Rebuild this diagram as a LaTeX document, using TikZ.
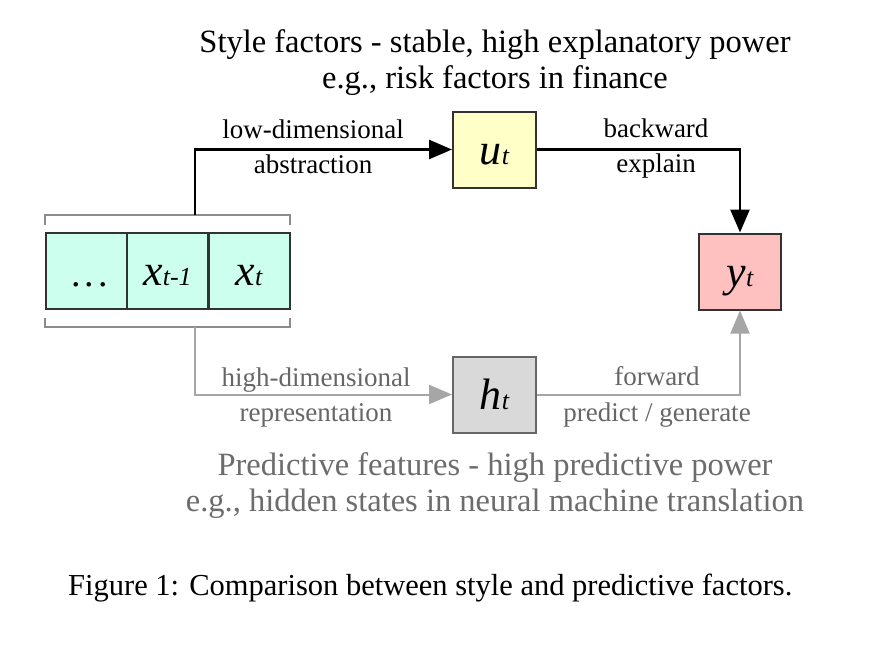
\documentclass[tikz,border=0pt]{standalone}
\usepackage{fontspec}
\setmainfont{Liberation Serif}
\usetikzlibrary{arrows.meta}
\definecolor{cellc}{RGB}{204,255,238}
\definecolor{uc}{RGB}{255,255,200}
\definecolor{yc}{RGB}{255,192,192}
\definecolor{hc}{RGB}{217,217,217}
\definecolor{gline}{RGB}{166,166,166}
\definecolor{gtext}{RGB}{102,102,102}
\definecolor{btext}{RGB}{108,108,108}
\definecolor{bord}{RGB}{50,50,50}
\begin{document}
\begin{tikzpicture}[x=1pt,y=-1pt,
  boxbase/.style={line width=2pt,minimum height=76pt,inner sep=0pt,text height=29pt,text depth=0pt,
    font=\fontsize{44}{46}\selectfont\itshape},
  cell/.style={boxbase,draw=bord,fill=cellc,minimum width=81pt},
  fbox/.style={boxbase,draw=bord,minimum width=83pt},
  lab/.style={font=\fontsize{27}{29}\selectfont,inner sep=0pt,anchor=base},
  head/.style={font=\fontsize{32.5}{34}\selectfont,inner sep=0pt,anchor=base},
  darr/.style={line width=2.5pt,-{Triangle[length=23pt,width=19pt]}},
  garr/.style={line width=2pt,draw=gline,-{Triangle[length=23pt,width=19pt]}},
]
\useasboundingbox (0,0) rectangle (876,646);
\newcommand{\sbt}[1]{{\fontsize{26}{27}\selectfont\itshape #1}}
% cells
\node[cell,font=\fontsize{38}{40}\selectfont] (c1) at (86,271) {\kern7pt\raisebox{-1pt}{.\kern4pt.\kern4pt.}};
\node[cell] (c2) at (167.5,271) {x\sbt{t-1}};
\node[cell] (c3) at (249,271) {x\sbt{t}};
% brackets
\draw[draw=gray!90,line width=2pt] (45,225) -- (45,215) -- (290,215) -- (290,225);
\draw[draw=gray!90,line width=2pt] (45,318) -- (45,327) -- (290,327) -- (290,318);
\coordinate (bt) at (195,215);
\coordinate (bb) at (195,327);
% boxes
\node[fbox,fill=uc] (u) at (494.5,149.5) {u\sbt{t}};
\node[fbox,fill=yc,minimum width=82pt] (y) at (740,271.5) {y\sbt{t}};
\node[fbox,fill=hc,draw=gtext] (h) at (494.5,394.5) {h\sbt{t}};
% connectors
\draw[darr] (bt) |- (u);
\draw[darr] (u) -| (y);
\draw[garr] (bb) |- (h);
\draw[garr] (h) -| (y);
% labels
\node[lab] (l1) at (313,138) {low-dimensional};
\node[lab] (l2) at (313,173) {abstraction};
\node[lab] (l3) at (656,137) {backward};
\node[lab] (l4) at (656,172) {explain};
\node[lab,text=gtext] (l5) at (316,386) {high-dimensional};
\node[lab,text=gtext] (l6) at (316,421) {representation};
\node[lab,text=gtext] (l7) at (657,385) {forward};
\node[lab,text=gtext] (l8) at (657,421) {predict / generate};
\node[head] (t1) at (495,52) {Style factors - stable, high explanatory power};
\node[head] (t2) at (495,88) {e.g., risk factors in finance};
\node[head,text=btext] (t3) at (495,475) {Predictive features - high predictive power};
\node[head,text=btext] (t4) at (495,511) {e.g., hidden states in neural machine translation};
\node[head,anchor=base west,font=\fontsize{30.5}{32}\selectfont] (cap) at (68,595) {Figure 1: Comparison between style and predictive factors.};
\end{tikzpicture}
\end{document}
